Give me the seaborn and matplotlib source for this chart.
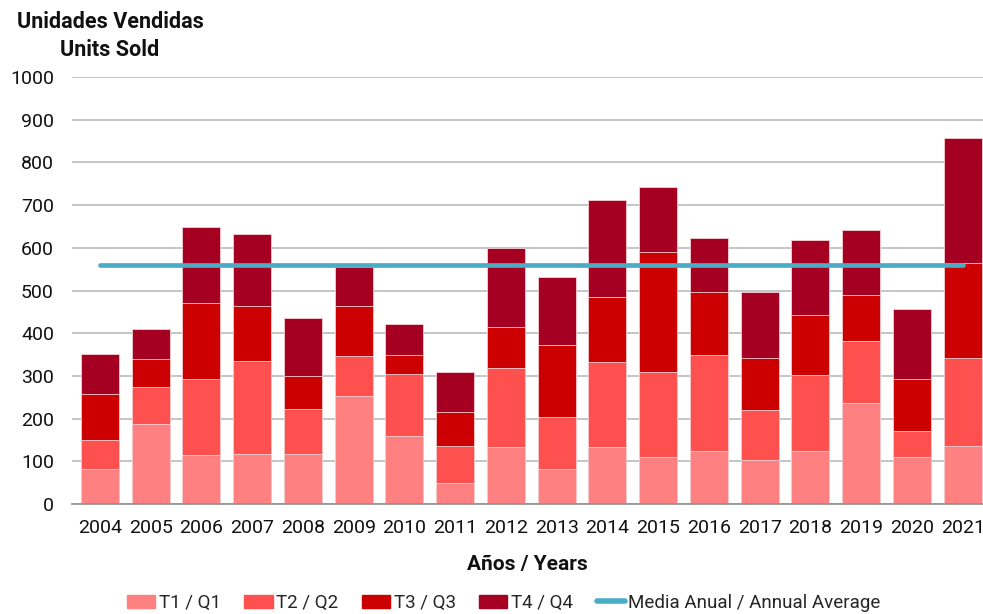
import numpy as np
import pandas as pd
import matplotlib
matplotlib.use('Agg')
import matplotlib.pyplot as plt
import matplotlib.patches as mpatches
from matplotlib.lines import Line2D
import seaborn as sns

# data
years = ['2004', '2005', '2006', '2007', '2008', '2009', '2010', '2011', '2012',
         '2013', '2014', '2015', '2016', '2017', '2018', '2019', '2020', '2021']
q1 = [81, 187, 115, 118, 118, 253, 160, 50, 133, 82, 133, 110, 123, 103, 125, 237, 110, 135]
q2 = [70, 87, 177, 218, 104, 94, 145, 87, 185, 122, 200, 198, 227, 117, 177, 145, 62, 208]
q3 = [107, 65, 179, 128, 77, 117, 44, 78, 96, 169, 152, 281, 146, 123, 140, 107, 121, 221]
q4 = [94, 72, 178, 169, 137, 91, 72, 93, 186, 159, 228, 153, 128, 154, 176, 153, 164, 294]
annual_avg = 559

quarter_labels = ['T1 / Q1', 'T2 / Q2', 'T3 / Q3', 'T4 / Q4']
quarter_colors = ['#FF8080', '#FF5050', '#CC0000', '#A50021']
AVG_COLOR = '#4BACC6'

df = pd.DataFrame({'year': years, 'q1': q1, 'q2': q2, 'q3': q3, 'q4': q4})
df['c1'] = df['q1']
df['c2'] = df['c1'] + df['q2']
df['c3'] = df['c2'] + df['q3']
df['c4'] = df['c3'] + df['q4']

sns.set_style('white')
plt.rcParams['font.family'] = ['Roboto', 'DejaVu Sans']

fig = plt.figure(figsize=(9.83, 6.14), dpi=100)
ax = fig.add_axes([72 / 983, 110 / 614, 1 - 72 / 983, 427 / 614])

# stacked bars: draw cumulative totals from the top series down
for col, color in zip(['c4', 'c3', 'c2', 'c1'], quarter_colors[::-1]):
    sns.barplot(data=df, x='year', y=col, color=color, width=0.75,
                edgecolor='#F4D0D4', linewidth=0.6, saturation=1, ax=ax, zorder=2)

sns.lineplot(x=np.arange(len(years)), y=[annual_avg] * len(years), color=AVG_COLOR,
             linewidth=3.4, ax=ax, zorder=3)

ax.set_ylim(0, 1000)
ax.set_xlim(-0.55, 17.4)
ax.set_yticks(range(0, 1001, 100))
ax.yaxis.grid(True, color='#C0C0C0', linewidth=1.3, zorder=0)
ax.set_axisbelow(True)
for s in ['top', 'right', 'left']:
    ax.spines[s].set_visible(False)
ax.spines['bottom'].set_color('#909090')
ax.spines['bottom'].set_linewidth(1.2)
ax.tick_params(axis='both', length=0, labelsize=14, colors='#111111')
ax.tick_params(axis='x', pad=11)
ax.tick_params(axis='y', pad=13)
ax.set_ylabel('')
ax.set_xlabel('Años / Years', fontsize=15, fontweight='bold', labelpad=13, color='#111111')

fig.text(110 / 983, 1 - 22 / 614, 'Unidades Vendidas', ha='center', va='center',
         fontsize=15.5, fontweight='bold', color='#111111')
fig.text(110 / 983, 1 - 50 / 614, 'Units Sold', ha='center', va='center',
         fontsize=15.5, fontweight='bold', color='#111111')

handles = [mpatches.Patch(color=c, label=l) for c, l in zip(quarter_colors, quarter_labels)]
handles.append(Line2D([0], [0], color=AVG_COLOR, linewidth=4, solid_capstyle='round',
                      label='Media Anual / Annual Average'))
fig.legend(handles=handles, loc='center', bbox_to_anchor=(504 / 983, 1 - 603 / 614),
           ncol=5, frameon=False, fontsize=13.5, handlelength=1.5, handleheight=0.7,
           handletextpad=0.2, columnspacing=1.25)

plt.savefig('out.png', dpi=100)
